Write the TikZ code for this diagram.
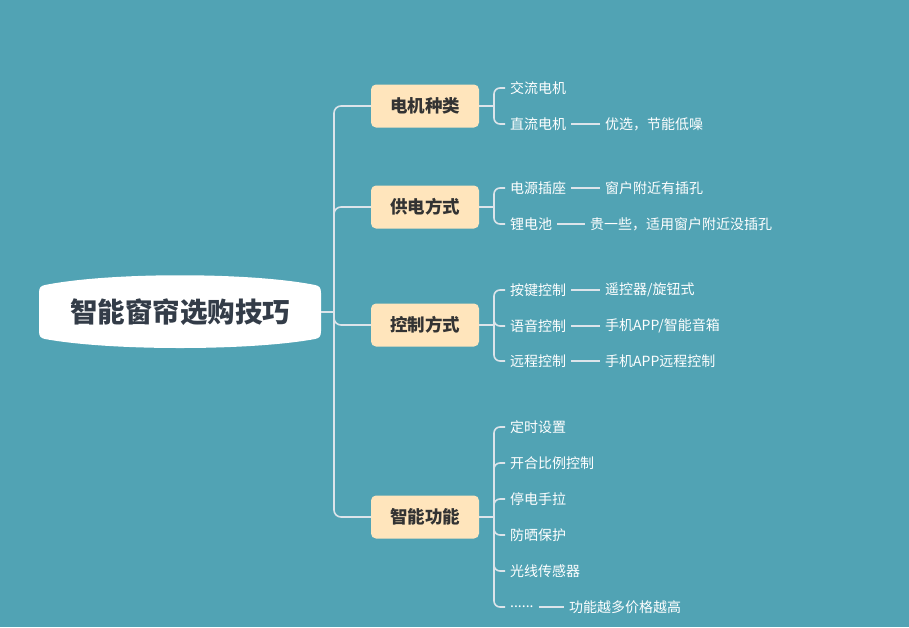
\documentclass[tikz,border=0pt]{standalone}
\usepackage{fontspec}
\setmainfont{Noto Sans CJK SC}
\begin{document}
\begin{tikzpicture}[x=1pt,y=-1pt,
  conn/.style={draw=linec,line width=1.6pt,rounded corners=7},
  detailconn/.style={draw=linec,line width=1.4pt},
  branchnode/.style={fill=branchc,rounded corners=5,minimum width=108,minimum height=43,inner sep=0,font=\fontsize{17.5}{20}\selectfont\bfseries,text=branchtext},
  leafnode/.style={anchor=west,inner xsep=5,inner ysep=2,font=\fontsize{14}{16}\selectfont,text=white},
]
\definecolor{bgc}{HTML}{51A3B4}
\definecolor{linec}{HTML}{DCE4EA}
\definecolor{branchc}{HTML}{FFE5BC}
\definecolor{branchtext}{HTML}{333333}
\definecolor{roottext}{HTML}{333C48}
\fill[bgc] (0,0) rectangle (909,627);
\useasboundingbox (0,0) rectangle (909,627);
% root shape
\fill[white] (39,293) .. controls (39,287) and (41,286) .. (45,285) .. controls (110,272) and (250,272) .. (315,285) .. controls (319,286) and (321,287) .. (321,293) -- (321,331) .. controls (321,337) and (319,338) .. (315,339) .. controls (250,351) and (110,351) .. (45,339) .. controls (41,338) and (39,337) .. (39,331) -- cycle;
\node[minimum width=282,minimum height=50,inner sep=0,font=\fontsize{27.5}{30}\selectfont\bfseries,text=roottext] (root) at (180,312) {智能窗帘选购技巧};
% branches
\node[branchnode] (b1) at (425,106) {电机种类};
\node[branchnode] (b2) at (425,207) {供电方式};
\node[branchnode] (b3) at (425,325) {控制方式};
\node[branchnode] (b4) at (425,517) {智能功能};
\coordinate (tj) at (334,312);
\draw[conn] (root.east) -- (tj);
\foreach \b in {b1,b2,b3,b4} \draw[conn] (tj) |- (\b.west);
% leaves
\node[leafnode] (l11) at (505,88) {交流电机};
\node[leafnode] (l12) at (505,124) {直流电机};
\node[leafnode] (d12) at (600,124) {优选，节能低噪};
\node[leafnode] (l21) at (505,188) {电源插座};
\node[leafnode] (d21) at (600,188) {窗户附近有插孔};
\node[leafnode] (l22) at (505,224) {锂电池};
\node[leafnode] (d22) at (585,224) {贵一些，适用窗户附近没插孔};
\node[leafnode] (l31) at (505,290) {按键控制};
\node[leafnode] (d31) at (600,290) {遥控器/旋钮式};
\node[leafnode] (l32) at (505,326) {语音控制};
\node[leafnode] (d32) at (600,326) {手机APP/智能音箱};
\node[leafnode] (l33) at (505,361) {远程控制};
\node[leafnode] (d33) at (600,361) {手机APP远程控制};
\node[leafnode] (l41) at (505,427) {定时设置};
\node[leafnode] (l42) at (505,463) {开合比例控制};
\node[leafnode] (l43) at (505,499) {停电手拉};
\node[leafnode] (l44) at (505,535) {防晒保护};
\node[leafnode] (l45) at (505,571) {光线传感器};
\node[leafnode] (l46) at (505,607) {......};
\node[leafnode] (d46) at (564,607) {功能越多价格越高};
% bracket joints
\coordinate (j1) at (494,106);
\coordinate (j2) at (494,207);
\coordinate (j3) at (494,325);
\coordinate (j4) at (494,517);
\draw[conn] (b1.east) -- (j1);
\draw[conn] (b2.east) -- (j2);
\draw[conn] (b3.east) -- (j3);
\draw[conn] (b4.east) -- (j4);
\foreach \l in {l11,l12} \draw[conn,rounded corners=6] (j1) |- (\l.west);
\foreach \l in {l21,l22} \draw[conn,rounded corners=6] (j2) |- (\l.west);
\foreach \l in {l31,l32,l33} \draw[conn,rounded corners=6] (j3) |- (\l.west);
\foreach \l in {l41,l42,l43,l44,l45,l46} \draw[conn,rounded corners=6] (j4) |- (\l.west);
% detail links
\draw[detailconn] (l12.east) -- (d12.west);
\draw[detailconn] (l21.east) -- (d21.west);
\draw[detailconn] (l22.east) -- (d22.west);
\draw[detailconn] (l31.east) -- (d31.west);
\draw[detailconn] (l32.east) -- (d32.west);
\draw[detailconn] (l33.east) -- (d33.west);
\draw[detailconn] (l46.east) -- (d46.west);
\end{tikzpicture}
\end{document}
